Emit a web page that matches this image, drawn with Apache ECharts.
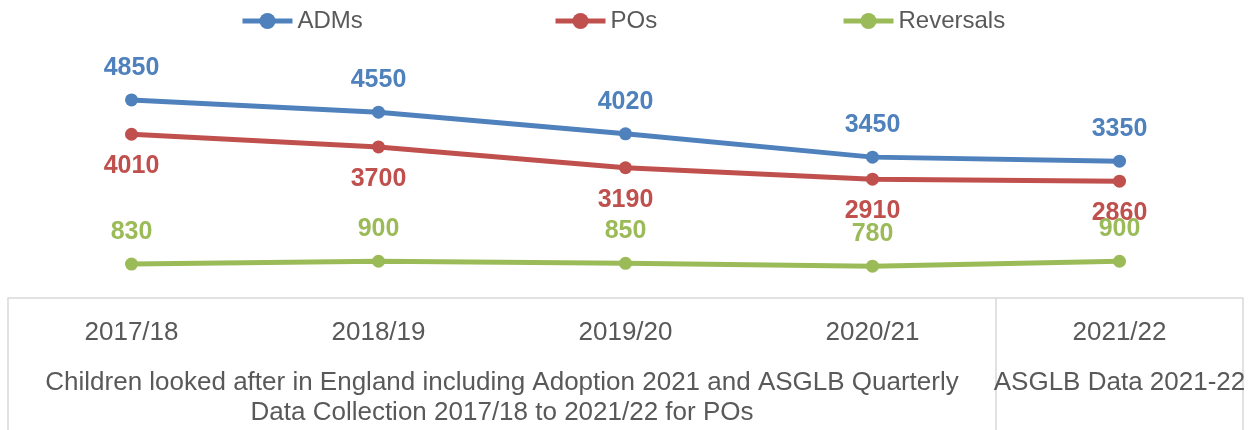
<!DOCTYPE html>
<html><head><meta charset="utf-8">
<script src="https://cdn.jsdelivr.net/npm/echarts@6/dist/echarts.min.js"></script>
<style>html,body{margin:0;padding:0;background:#fff}#c{width:1249px;height:430px}</style>
</head><body><div id="c"></div>
<script>
const categories = ['2017/18', '2018/19', '2019/20', '2020/21', '2021/22'];
const admValues = [4850, 4550, 4020, 3450, 3350];
const poValues = [4010, 3700, 3190, 2910, 2860];
const reversalValues = [830, 900, 850, 780, 900];
const seriesNames = ['ADMs', 'POs', 'Reversals'];
const groupLabels = ['Children looked after in England including Adoption 2021 and ASGLB Quarterly\nData Collection 2017/18 to 2021/22 for POs', 'ASGLB Data 2021-22'];
const groupSpans = [4, 1];

const colors = ['#4F81BD', '#C0504D', '#9BBB59'];
const font = '"Liberation Sans", Arial, sans-serif';

// group boundaries and centres in category units
const bounds = [0];
const centers = [];
groupSpans.forEach(s => { const b = bounds[bounds.length - 1]; centers.push(b + s / 2); bounds.push(b + s); });

const chart = echarts.init(document.getElementById('c'), null, {renderer: 'canvas'});

function mkSeries(name, data, color, pos) {
  return {
    name, type: 'line', data, xAxisIndex: 0, yAxisIndex: 0,
    symbol: 'circle', symbolSize: 13,
    lineStyle: {color, width: 5}, itemStyle: {color},
    label: {show: true, position: pos, distance: 13, color, fontFamily: font, fontWeight: 'bold', fontSize: 25},
    emphasis: {disabled: true}, animation: false
  };
}

const legendBase = {top: 4, itemWidth: 50, itemHeight: 20, itemGap: 4,
  lineStyle: {width: 5},
  textStyle: {color: '#595959', fontFamily: font, fontSize: 24}};

chart.setOption({
  animation: false,
  legend: [
    Object.assign({}, legendBase, {left: 235, data: [seriesNames[0]]}),
    Object.assign({}, legendBase, {left: 548, data: [seriesNames[1]]}),
    Object.assign({}, legendBase, {left: 836, data: [seriesNames[2]]})
  ],
  grid: {left: 8, right: 6, top: 53, bottom: 132, containLabel: false},
  xAxis: [
    {type: 'category', data: categories, boundaryGap: true, position: 'bottom',
     axisLine: {show: true, lineStyle: {color: '#D9D9D9', width: 1.5}},
     axisTick: {show: false},
     axisLabel: {color: '#595959', fontFamily: font, fontSize: 26, margin: 22}},
    {type: 'value', min: 0, max: categories.length, position: 'bottom', offset: 0,
     axisLine: {show: false}, splitLine: {show: false},
     axisTick: {show: true, customValues: bounds, length: 140, lineStyle: {color: '#D9D9D9', width: 1.5}},
     axisLabel: {show: true, customValues: centers, margin: 70, hideOverlap: false,
       color: '#595959', fontFamily: font, fontSize: 26, lineHeight: 30, align: 'center', verticalAlign: 'top',
       formatter: v => { const i = centers.findIndex(c => Math.abs(c - v) < 1e-6); return i >= 0 ? groupLabels[i] : ''; }}}
  ],
  yAxis: {type: 'value', min: 0, max: 6000, show: false, splitLine: {show: false}},
  series: [
    mkSeries(seriesNames[0], admValues, colors[0], 'top'),
    mkSeries(seriesNames[1], poValues, colors[1], 'bottom'),
    mkSeries(seriesNames[2], reversalValues, colors[2], 'top')
  ]
});
</script></body></html>
